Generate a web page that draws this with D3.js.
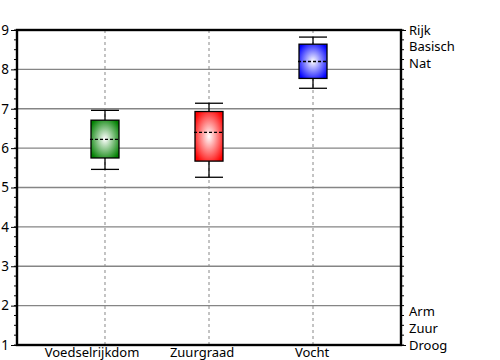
<!DOCTYPE html>
<html><head><meta charset="utf-8">
<script src="https://cdn.jsdelivr.net/npm/d3@7"></script>
<style>body{margin:0;background:#fff}svg{display:block}text{font-family:"Noto Sans",sans-serif}</style>
</head><body>
<svg id="c" width="500" height="360"></svg>
<script>
const categories = ["Voedselrijkdom", "Zuurgraad", "Vocht"];
const whiskerLow  = [5.46, 5.26, 7.52];
const boxLow      = [5.75, 5.67, 7.77];
const meanVal     = [6.22, 6.40, 8.20];
const boxHigh     = [6.71, 6.93, 8.64];
const whiskerHigh = [6.96, 7.14, 8.82];
const colors = ["#008000", "#ff0000", "#0000ff"];
const yTicks = [1,2,3,4,5,6,7,8,9];
const rightTopLabels = ["Rijk","Basisch","Nat"];
const rightTopVals = [9, 8.58, 8.16];
const rightBotLabels = ["Arm","Zuur","Droog"];
const rightBotVals = [1.84, 1.42, 1.0];

const svg = d3.select("#c");
const L=17, R=401, T=30, B=345;
const x = d3.scalePoint().domain(categories).range([L,R]).padding(0.846);
const y = d3.scaleLinear().domain([1,9]).range([B,T]);
const bw = 28;

const defs = svg.append("defs");
colors.forEach((c,i)=>{
  const g = defs.append("radialGradient").attr("id","g"+i).attr("cx","50%").attr("cy","50%").attr("r","62%");
  g.append("stop").attr("offset","0%").attr("stop-color","#fff");
  g.append("stop").attr("offset","100%").attr("stop-color",c);
});

// grid
svg.append("g").selectAll("line").data(yTicks.filter(d=>d>1&&d<9)).join("line")
  .attr("x1",L).attr("x2",R).attr("y1",d=>y(d)).attr("y2",d=>y(d))
  .attr("stroke","#858585").attr("stroke-width",1.3);
svg.append("g").selectAll("line").data(categories).join("line")
  .attr("x1",d=>x(d)).attr("x2",d=>x(d)).attr("y1",T).attr("y2",B)
  .attr("stroke","#888").attr("stroke-dasharray","3,3");

// minor ticks
const minor = d3.range(1,9.001,0.25);
svg.append("g").selectAll("line").data(minor).join("line")
  .attr("x1",L-3).attr("x2",L).attr("y1",d=>y(d)).attr("y2",d=>y(d)).attr("stroke","#000");
svg.append("g").selectAll("line").data(minor).join("line")
  .attr("x1",R).attr("x2",R+3).attr("y1",d=>y(d)).attr("y2",d=>y(d)).attr("stroke","#000");

// left axis
const la = svg.append("g").attr("transform",`translate(${L},0)`)
  .call(d3.axisLeft(y).tickValues(yTicks).tickFormat(d3.format("d")).tickSize(6).tickPadding(2));
la.select(".domain").remove();
la.selectAll("text").attr("font-size",13.5).attr("font-family","Noto Sans").attr("fill","#000");

// right labels
const ra = svg.append("g").attr("transform",`translate(${R},0)`)
  .call(d3.axisRight(y).tickValues([9,1]).tickFormat("").tickSize(5));
ra.select(".domain").remove();
svg.append("g").selectAll("text").data(rightTopLabels.concat(rightBotLabels)).join("text")
  .attr("x",R+8).attr("y",(d,i)=>y(rightTopVals.concat(rightBotVals)[i])).attr("dy","0.35em")
  .attr("font-size",13).text(d=>d);

// bottom labels
svg.append("g").selectAll("text").data(categories).join("text")
  .attr("x",d=>x(d)).attr("y",B+11.5).attr("text-anchor","middle").attr("font-size",13).text(d=>d)
  .attr("dx",function(){ return -(this.getComputedTextLength()-30)*0.2; });

// boxes
const g = svg.append("g");
categories.forEach((c,i)=>{
  const cx = x(c);
  g.append("line").attr("x1",cx).attr("x2",cx).attr("y1",y(whiskerHigh[i])).attr("y2",y(boxHigh[i])).attr("stroke","#000").attr("stroke-width",1.3);
  g.append("line").attr("x1",cx).attr("x2",cx).attr("y1",y(boxLow[i])).attr("y2",y(whiskerLow[i])).attr("stroke","#000").attr("stroke-width",1.3);
  [whiskerHigh[i],whiskerLow[i]].forEach(v=>g.append("line").attr("x1",cx-bw/2).attr("x2",cx+bw/2).attr("y1",y(v)).attr("y2",y(v)).attr("stroke","#000").attr("stroke-width",1.3));
  g.append("rect").attr("x",cx-bw/2).attr("width",bw).attr("y",y(boxHigh[i])).attr("height",y(boxLow[i])-y(boxHigh[i]))
    .attr("fill",`url(#g${i})`).attr("stroke","#000").attr("stroke-width",1.3);
  g.append("line").attr("x1",cx-bw/2-1).attr("x2",cx+bw/2+1).attr("y1",y(meanVal[i])).attr("y2",y(meanVal[i]))
    .attr("stroke","#000").attr("stroke-dasharray","3,2").attr("stroke-width",1.3);
});

// frame
svg.append("rect").attr("x",L).attr("y",T).attr("width",R-L).attr("height",B-T)
  .attr("fill","none").attr("stroke","#000").attr("stroke-width",2.4);
</script>
</body></html>
